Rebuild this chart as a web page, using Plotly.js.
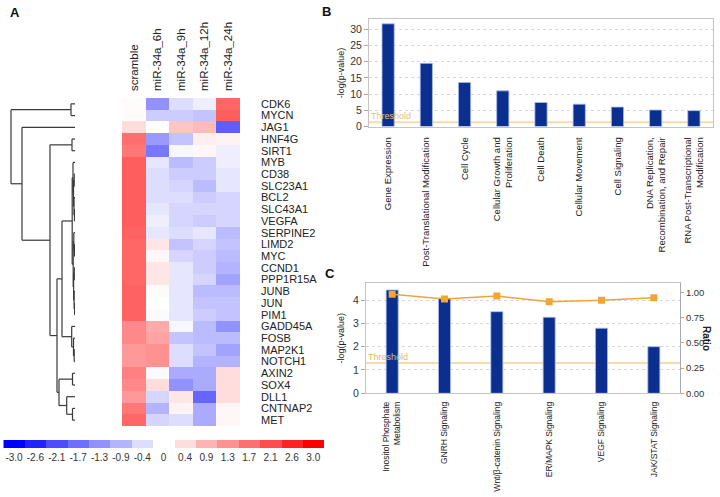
<!DOCTYPE html>
<html>
<head>
<meta charset="utf-8">
<script src="https://cdn.plot.ly/plotly-3.0.1.min.js"></script>
<style>html,body{margin:0;padding:0;background:#fff;}#chart{width:720px;height:497px;}</style>
</head>
<body>
<div id="chart"></div>
<script>
// ---------- Panel A data ----------
const genes = ['CDK6','MYCN','JAG1','HNF4G','SIRT1','MYB','CD38','SLC23A1','BCL2','SLC43A1','VEGFA','SERPINE2','LIMD2','MYC','CCND1','PPP1R15A','JUNB','JUN','PIM1','GADD45A','FOSB','MAP2K1','NOTCH1','AXIN2','SOX4','DLL1','CNTNAP2','MET'];
const conditions = ['scramble','miR-34a_6h','miR-34a_9h','miR-34a_12h','miR-34a_24h'];
const expr = [
  [0.05,-1.3,-0.4,-0.2,1.8],
  [0.05,-0.6,-0.6,-0.7,1.9],
  [0.4,0.0,0.7,0.8,-1.9],
  [1.7,-1.2,-0.7,0.2,0.15],
  [1.6,-1.6,-0.1,0.1,-0.2],
  [1.9,-0.3,-0.8,-0.6,-0.2],
  [1.9,-0.4,-0.6,-0.6,-0.3],
  [1.9,-0.4,-0.5,-0.8,-0.3],
  [1.9,-0.4,-0.4,-0.6,-0.5],
  [1.9,-0.3,-0.5,-0.5,-0.5],
  [1.9,-0.2,-0.5,-0.6,-0.5],
  [1.85,-0.3,-0.4,-0.3,-0.8],
  [1.8,0.3,-0.7,-0.5,-0.7],
  [1.8,0.1,-0.5,-0.6,-0.8],
  [1.8,0.3,-0.3,-0.6,-0.9],
  [1.8,0.3,-0.3,-0.5,-1.1],
  [1.85,0.05,-0.3,-0.8,-0.8],
  [1.85,0.0,-0.3,-0.7,-0.7],
  [1.85,-0.05,-0.3,-0.6,-0.7],
  [1.4,1.0,-0.1,-0.8,-1.3],
  [1.4,1.1,-0.7,-0.8,-0.8],
  [1.2,1.3,-0.4,-0.7,-1.1],
  [1.2,1.3,-0.4,-0.9,-0.9],
  [1.5,-0.05,-1.0,-1.0,0.4],
  [1.4,0.4,-1.3,-1.0,0.4],
  [1.2,-0.5,0.3,-1.8,0.4],
  [1.6,-0.9,0.15,-1.0,0.1],
  [1.8,-0.5,-0.4,-1.0,0.1]
];
// dendrogram: [mergeHeight, left, right]
const dendroTree = [64,
  [4,'CDK6','MYCN'],
  [53,'JAG1',
    [25,[3,'HNF4G','SIRT1'],
      [18,
        [13,
          [2.8,
            [2.0,'MYB',[1.5,[0.8,'CD38','SLC23A1'],[1.0,'BCL2',[0.5,'SLC43A1','VEGFA']]]],
            [1.8,[1.2,'SERPINE2',[0.6,'LIMD2','MYC']],[1.4,[0.7,'CCND1','PPP1R15A'],[0.9,'JUNB',[0.4,'JUN','PIM1']]]]
          ],
          [3.3,'GADD45A',[1.5,'FOSB',[0.8,'MAP2K1','NOTCH1']]]
        ],
        [16,[2.5,'AXIN2','SOX4'],[8.3,'DLL1',[2.5,'CNTNAP2','MET']]]
      ]
    ]
  ]
];
const scaleValues = [-3.0,-2.6,-2.1,-1.7,-1.3,-0.9,-0.4,0,0.4,0.9,1.3,1.7,2.1,2.6,3.0];
const scaleLabels = ['-3.0','-2.6','-2.1','-1.7','-1.3','-0.9','-0.4','0','0.4','0.9','1.3','1.7','2.1','2.6','3.0'];

// ---------- Panel B data ----------
const functions = ['Gene Expression','Post-Translational Modification','Cell Cycle','Cellular Growth and<br>Proliferation','Cell Death','Cellular Movement','Cell Signaling','DNA Replication,<br>Recombination, and Repair','RNA Post-Transcriptional<br>Modification'];
const functionLogP = [31.7,19.5,13.6,11.0,7.4,6.9,6.0,5.1,4.9];

// ---------- Panel C data ----------
const pathways = ['Inositol Phosphate<br>Metabolism','GNRH Signaling','Wnt/β-catenin Signaling','ER/MAPK Signaling','VEGF Signaling','JAK/STAT Signaling'];
const pathwayLogP = [4.43,4.08,3.5,3.26,2.79,2.0];
const pathwayRatio = [0.98,0.934,0.963,0.907,0.92,0.947];
const threshold = 1.3;

// ---------- build ----------
const W = 720, H = 497;
const px = v => v / W;
const py = v => 1 - v / H;
const FONT = 'Liberation Sans, Arial, sans-serif';
const colorscale = [[0,'#0000ff'],[0.5,'#ffffff'],[1,'#ff0000']];

// dendrogram segments
const dx = [], dy = [];
function walk(node){
  if (typeof node === 'string') return {y: genes.indexOf(node), h: 0};
  const [h, a, b] = node;
  const A = walk(a), B = walk(b);
  dx.push(A.h, h, null, B.h, h, null, h, h, null);
  dy.push(A.y, A.y, null, B.y, B.y, null, A.y, B.y, null);
  return {y: (A.y + B.y) / 2, h: h};
}
walk(dendroTree);

const rowIdx = genes.map((g,i)=>i);
const colIdx = conditions.map((c,i)=>i);

const traces = [
  {type:'heatmap', z: expr, x: colIdx, y: rowIdx, xaxis:'x', yaxis:'y',
   colorscale: colorscale, zmin:-3, zmax:3, showscale:false, hoverinfo:'skip'},
  {type:'scatter', mode:'lines', x: dx, y: dy, xaxis:'x2', yaxis:'y',
   line:{color:'#3a3a3a', width:1.2}, hoverinfo:'skip', showlegend:false},
  {type:'heatmap', z:[scaleValues], x: scaleValues.map((v,i)=>i), y:[0], xaxis:'x3', yaxis:'y3',
   colorscale: colorscale, zmin:-3, zmax:3, showscale:false, hoverinfo:'skip'},
  {type:'bar', x: functions, y: functionLogP, xaxis:'x4', yaxis:'y4',
   marker:{color:'#0b2f8f', line:{color:'#a8bde8', width:0.8}}, width:0.32, showlegend:false},
  {type:'bar', x: pathways, y: pathwayLogP, xaxis:'x5', yaxis:'y5',
   marker:{color:'#0b2f8f', line:{color:'#a8bde8', width:0.8}}, width:0.23, showlegend:false},
  {type:'scatter', mode:'lines+markers', x: pathways, y: pathwayRatio, xaxis:'x5', yaxis:'y6',
   line:{color:'#f0a535', width:1.5}, marker:{symbol:'square', size:7, color:'#f0a535'}, showlegend:false}
];

const tf = (s,c) => ({family: FONT, size: s, color: c || '#222'});

const layout = {
  width: W, height: H, margin:{l:0,r:0,t:0,b:0,pad:0},
  paper_bgcolor:'#fff', plot_bgcolor:'rgba(0,0,0,0)', showlegend:false,
  font:{family: FONT},
  // heatmap
  xaxis:{domain:[px(122),px(240)], anchor:'y', side:'top', range:[-0.5,4.5],
    tickvals: colIdx, ticktext: conditions, tickangle:-90, ticks:'', ticklabelstandoff:6,
    tickfont: tf(11.5,'#222'), showgrid:false, zeroline:false, showline:false, fixedrange:true},
  yaxis:{domain:[py(426),py(98)], anchor:'x', side:'right', range:[27.5,-0.5],
    tickvals: rowIdx, ticktext: genes, ticks:'', ticklabelstandoff:20,
    tickfont: tf(11,'#222'), showgrid:false, zeroline:false, showline:false},
  // dendrogram
  xaxis2:{domain:[0,px(75)], anchor:'y', range:[75,0], visible:false},
  // colour scale
  xaxis3:{domain:[px(3.3),px(324)], anchor:'y3', range:[-0.5,14.5],
    tickvals: scaleValues.map((v,i)=>i), ticktext: scaleLabels, ticks:'', ticklabelstandoff:2,
    tickfont: tf(10,'#333'), showgrid:false, zeroline:false, showline:false},
  yaxis3:{domain:[py(448.3),py(440)], anchor:'x3', visible:false, range:[-0.5,0.5]},
  // panel B
  xaxis4:{domain:[px(369),px(713)], anchor:'y4', tickangle:-90, ticks:'', ticklabelstandoff:6,
    tickfont: tf(9.5,'#222'), showline:true, mirror:true, linecolor:'#c4c4c4', linewidth:1, showgrid:false},
  yaxis4:{domain:[py(126.5),py(19.3)], anchor:'x4', range:[0,33.1], dtick:5, tick0:0,
    ticks:'outside', ticklen:4, tickcolor:'#aaa', tickfont: tf(10.5,'#333'),
    showline:true, mirror:true, linecolor:'#c4c4c4', linewidth:1,
    gridcolor:'#d8d8d8', griddash:'dot', zeroline:false,
    title:{text:'-log(p-value)', font: tf(9,'#222'), standoff:4}},
  // panel C
  xaxis5:{domain:[px(366),px(680)], anchor:'y5', tickangle:-90, ticks:'', ticklabelstandoff:4,
    tickfont: tf(8.5,'#222'), showline:true, mirror:true, linecolor:'#c4c4c4', linewidth:1, showgrid:false},
  yaxis5:{domain:[py(393.3),py(283)], anchor:'x5', range:[0,4.73], dtick:1, tick0:0,
    ticks:'outside', ticklen:4, tickcolor:'#aaa', tickfont: tf(10.5,'#333'),
    showline:true, linecolor:'#c4c4c4', linewidth:1,
    gridcolor:'#d8d8d8', griddash:'dot', zeroline:false,
    title:{text:'-log(p-value)', font: tf(9,'#222'), standoff:6}},
  yaxis6:{overlaying:'y5', side:'right', anchor:'x5', range:[0,1.092],
    tickvals:[0,0.25,0.5,0.75,1.0], tickformat:'.2f', ticks:'outside', ticklen:3, tickcolor:'#aaa',
    tickfont: tf(9.5,'#333'), showline:true, linecolor:'#aaa', linewidth:1, showgrid:false, zeroline:false},
  shapes:[
    {type:'line', xref:'x4 domain', x0:0, x1:1, yref:'y4', y0:threshold, y1:threshold,
     line:{color:'#f3dcae', width:2}, layer:'below'},
    {type:'line', xref:'x5 domain', x0:0, x1:1, yref:'y5', y0:threshold, y1:threshold,
     line:{color:'#f2b75a', width:1.2}, layer:'below'}
  ],
  annotations:[
    {xref:'paper', yref:'paper', x:px(15), y:py(12), xanchor:'center', yanchor:'middle', text:'<b>A</b>', showarrow:false, font: tf(13,'#111')},
    {xref:'paper', yref:'paper', x:px(326), y:py(11), xanchor:'center', yanchor:'middle', text:'<b>B</b>', showarrow:false, font: tf(13,'#111')},
    {xref:'paper', yref:'paper', x:px(330), y:py(273), xanchor:'center', yanchor:'middle', text:'<b>C</b>', showarrow:false, font: tf(13,'#111')},
    {xref:'x4 domain', yref:'y4', x:0, y:threshold, xanchor:'left', yanchor:'bottom', yshift:-1,
     text:'Threshold', showarrow:false, font: tf(9,'#e6c27a')},
    {xref:'x5 domain', yref:'y5', x:0, y:threshold, xanchor:'left', yanchor:'bottom', yshift:-1,
     text:'Threshold', showarrow:false, font: tf(9,'#e6b865')},
    {xref:'paper', yref:'paper', x:px(707), y:py(338), xanchor:'center', yanchor:'middle', text:'<b>Ratio</b>', textangle:90,
     showarrow:false, font: tf(10,'#222')}
  ]
};

Plotly.newPlot('chart', traces, layout, {staticPlot:true, displayModeBar:false});
</script>
</body>
</html>
